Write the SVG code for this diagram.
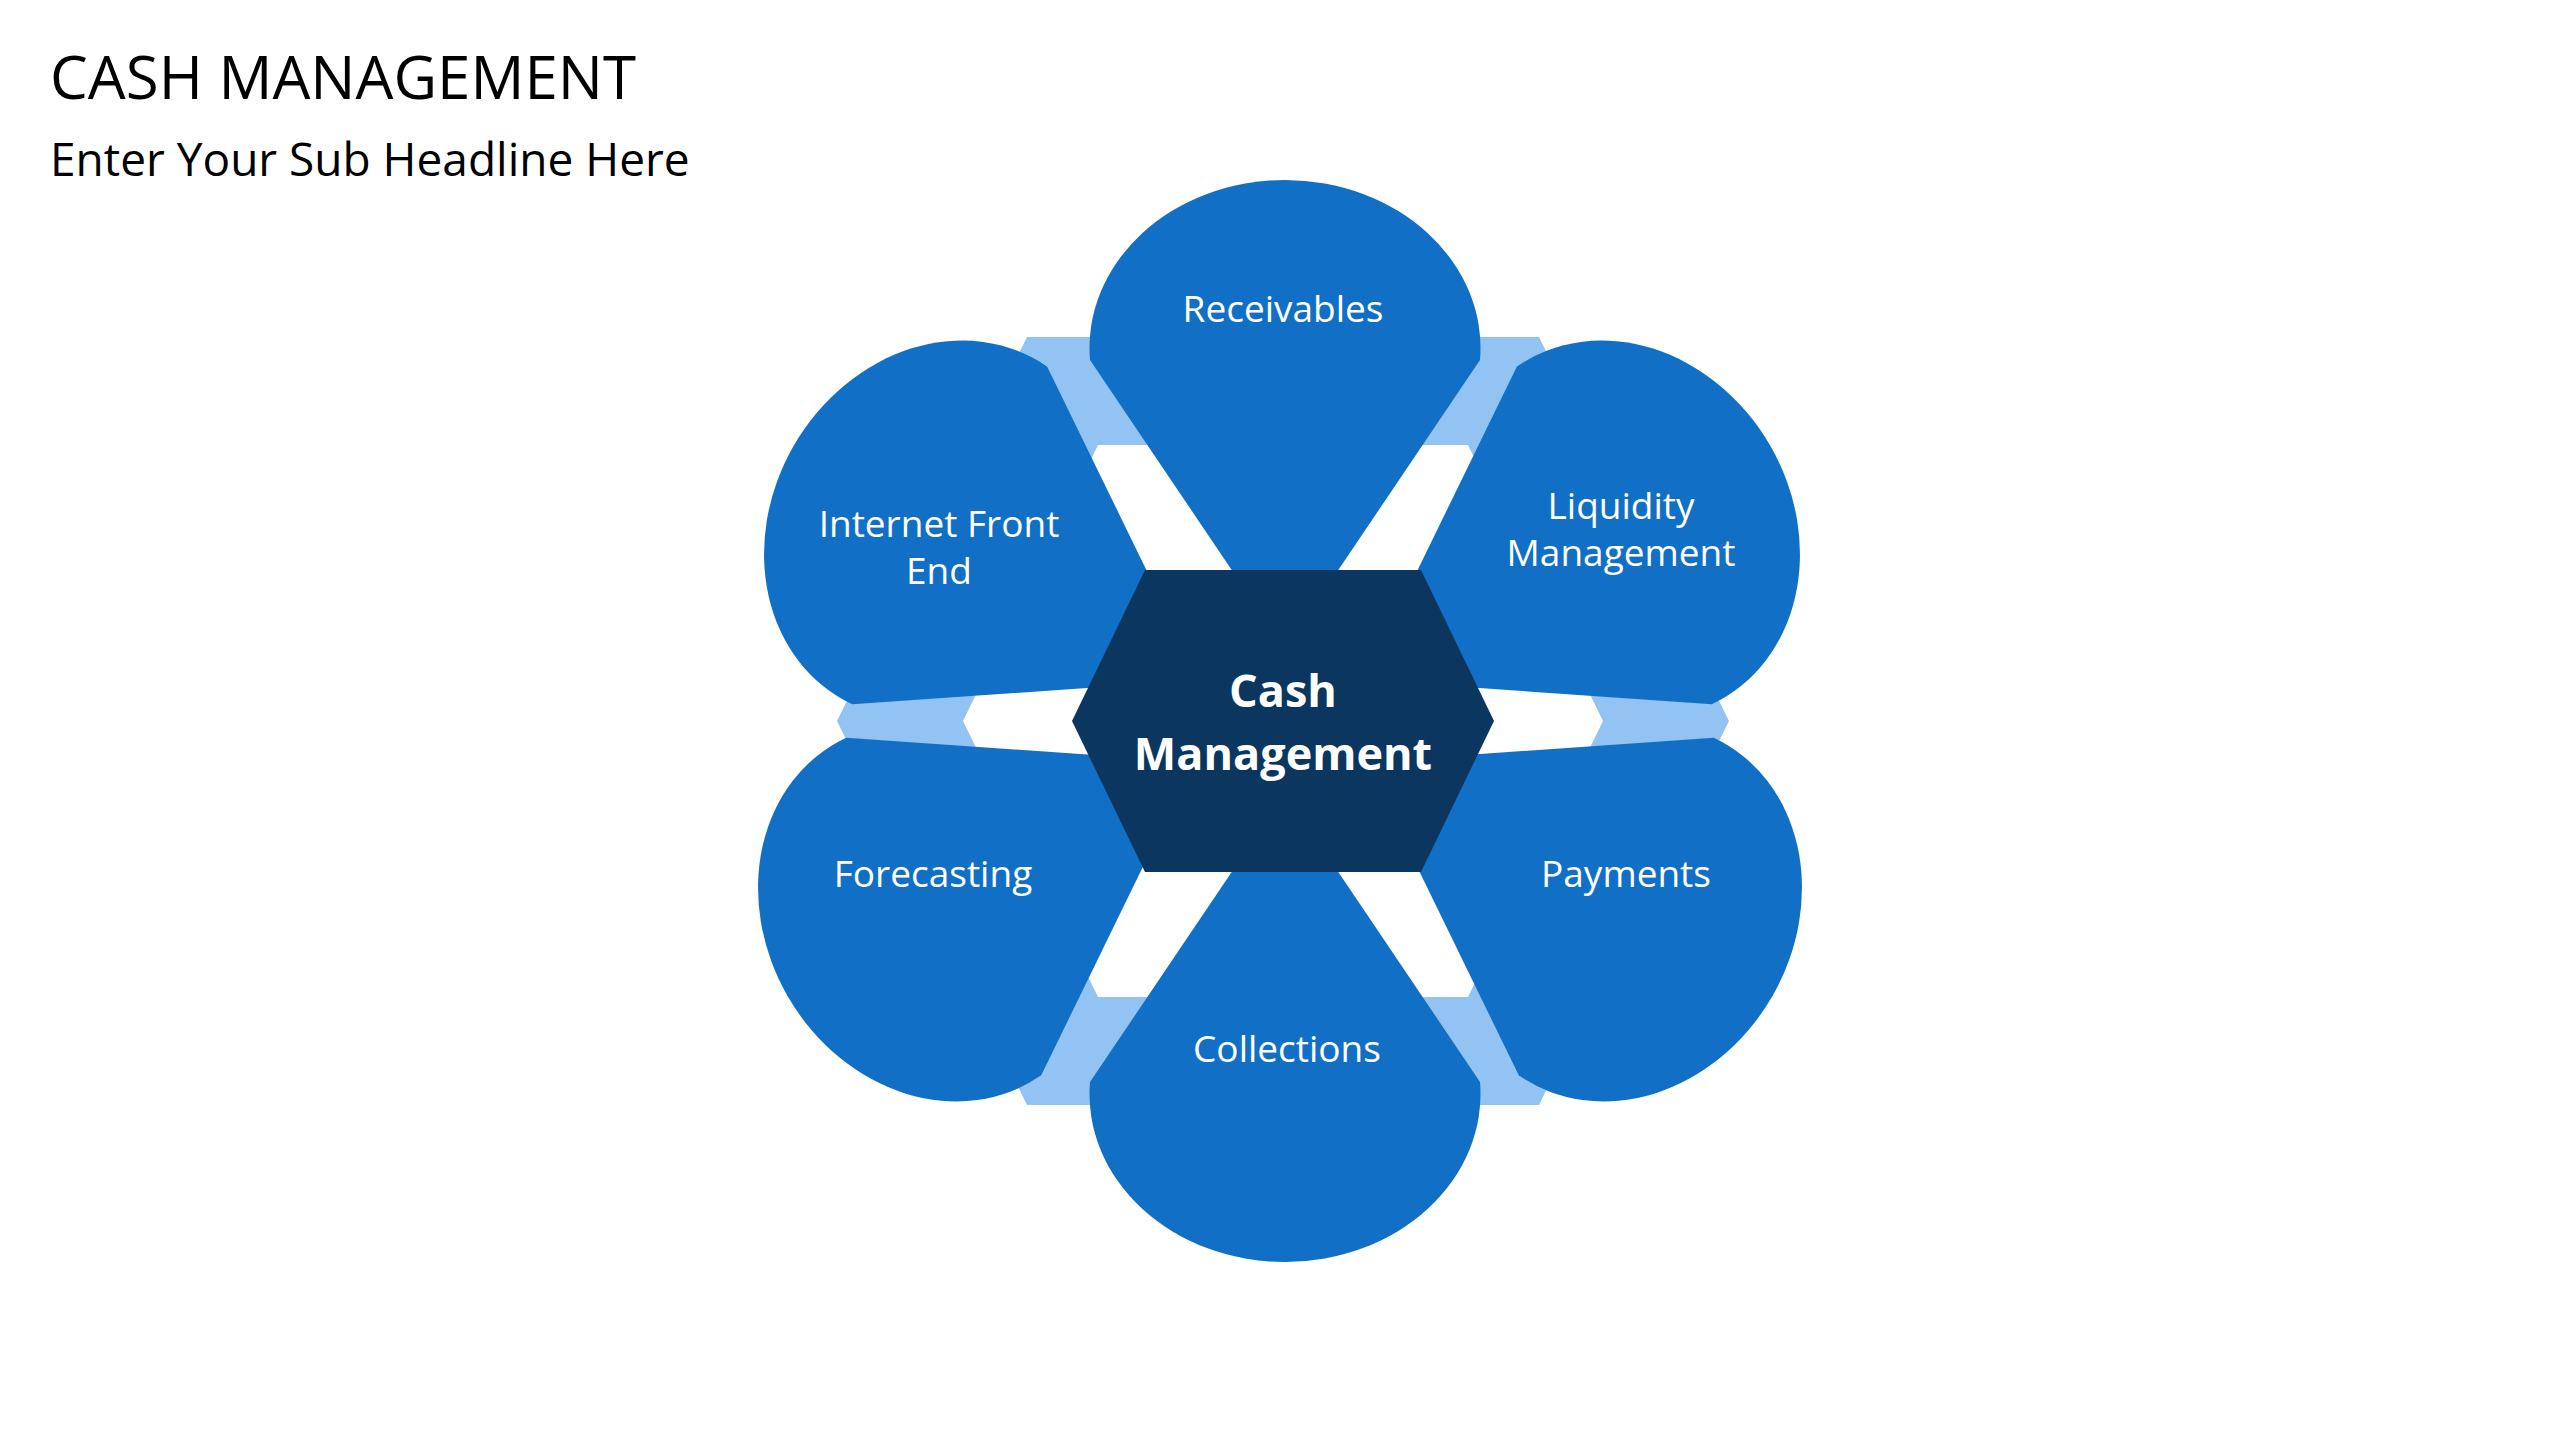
<svg xmlns="http://www.w3.org/2000/svg" xmlns:xlink="http://www.w3.org/1999/xlink" width="2560" height="1440" viewBox="0 0 2560 1440">
  <style>
    .petal { fill: #1170C5; }
    .ring { fill: #93C3F2; fill-rule: evenodd; }
    .hub { fill: #0B365F; }
    .lbl { font-family: "Open Sans", "Noto Sans", "Liberation Sans", sans-serif; font-size: 37px; fill: #FFFFFF; text-anchor: middle; }
    .hubtxt { font-family: "Open Sans", "Noto Sans", "Liberation Sans", sans-serif; font-size: 45px; font-weight: bold; fill: #FFFFFF; text-anchor: middle; }
    .title { font-family: "Open Sans", "Noto Sans", "Liberation Sans", sans-serif; font-size: 60px; fill: #000000; }
    .sub { font-family: "Open Sans", "Noto Sans", "Liberation Sans", sans-serif; font-size: 46px; fill: #000000; }
  </style>
  <defs>
    <path id="petalShape" d="M -195,-289 A 195.5 168 0 1 1 195,-289 L 0,0 Z"/>
  </defs>
  <rect x="0" y="0" width="2560" height="1440" fill="#FFFFFF"/>

  <g id="header">
    <text class="title" x="50" y="99">CASH MANAGEMENT</text>
    <text class="sub" x="50" y="176">Enter Your Sub Headline Here</text>
  </g>

  <g id="connectors">
    <path class="ring" d="M837,721 L1027,337 L1539,337 L1729,721 L1539,1105 L1027,1105 Z M963,721 L1098,445 L1468,445 L1603,721 L1468,997 L1098,997 Z"/>
  </g>

  <g id="node-receivables">
    <use xlink:href="#petalShape" href="#petalShape" class="petal" transform="translate(1285,649)"/>
    <text class="lbl" x="1283" y="322">Receivables</text>
  </g>
  <g id="node-liquidity">
    <use xlink:href="#petalShape" href="#petalShape" class="petal" transform="translate(1364,680) rotate(60)"/>
    <text class="lbl" x="1621" y="519">Liquidity</text>
    <text class="lbl" x="1621" y="566">Management</text>
  </g>
  <g id="node-payments">
    <use xlink:href="#petalShape" href="#petalShape" class="petal" transform="translate(1366,762) rotate(120)"/>
    <text class="lbl" x="1626" y="887">Payments</text>
  </g>
  <g id="node-collections">
    <use xlink:href="#petalShape" href="#petalShape" class="petal" transform="translate(1285,793) rotate(180)"/>
    <text class="lbl" x="1287" y="1062">Collections</text>
  </g>
  <g id="node-forecasting">
    <use xlink:href="#petalShape" href="#petalShape" class="petal" transform="translate(1194,762) rotate(-120)"/>
    <text class="lbl" x="933" y="887">Forecasting</text>
  </g>
  <g id="node-internet">
    <use xlink:href="#petalShape" href="#petalShape" class="petal" transform="translate(1200,680) rotate(-60)"/>
    <text class="lbl" x="939" y="537">Internet Front</text>
    <text class="lbl" x="939" y="584">End</text>
  </g>

  <g id="node-center">
    <path class="hub" d="M1072,721 L1145,570 L1421,570 L1494,721 L1421,872 L1145,872 Z"/>
    <text class="hubtxt" x="1283" y="707">Cash</text>
    <text class="hubtxt" x="1283" y="770">Management</text>
  </g>
</svg>
